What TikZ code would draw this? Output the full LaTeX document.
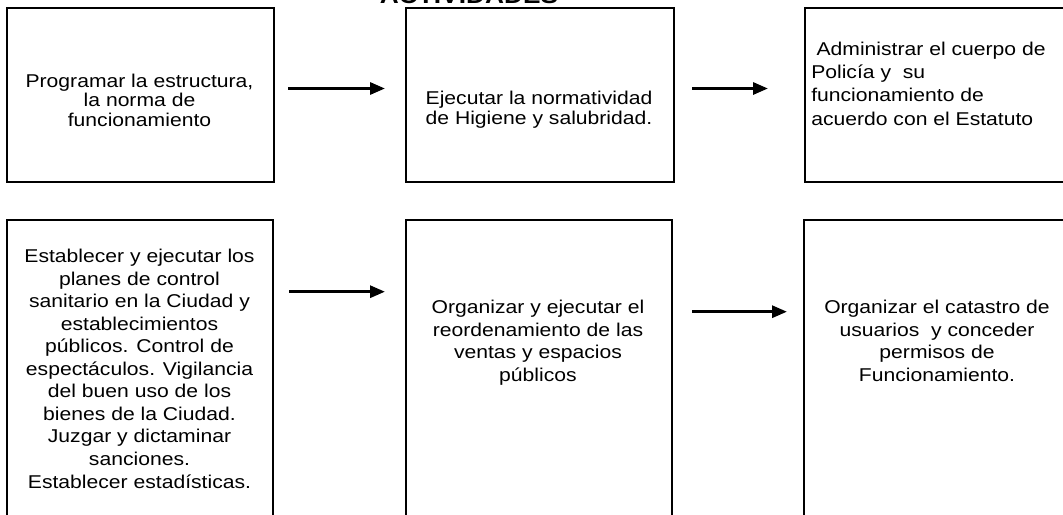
\documentclass[tikz,border=0pt]{standalone}
\usepackage{fontspec}
\setmainfont{Liberation Sans}[FakeStretch=1.14]
\usetikzlibrary{arrows.meta}
% body text size with a given line spacing
\newcommand\boxfont[1]{\fontsize{13.9pt}{#1}\selectfont}
\begin{document}
\begin{tikzpicture}[x=0.75pt,y=-0.75pt,
  box/.style={draw, line width=1.5pt, rectangle, inner sep=0pt, anchor=north west},
  txt/.style={inner sep=0pt, anchor=base, align=center},
  flow/.style={line width=2.25pt, -{Triangle[length=11.25pt,width=9pt]}}
]
\useasboundingbox (0,0) rectangle (1063,514);
\clip (0,0) rectangle (1063,514);

% heading
\node[anchor=base, inner sep=0pt, font=\bfseries\fontsize{17.3pt}{20pt}\selectfont] (title) at (469,3) {ACTIVIDADES};

% upper row of boxes
\node[box, minimum width=266.5*0.75pt, minimum height=174*0.75pt] (b1) at (6.3,7.3) {};
\node[box, minimum width=267.7*0.75pt, minimum height=174*0.75pt] (b2) at (405,7.3) {};
\node[box, minimum width=268*0.75pt, minimum height=174*0.75pt] (b3) at (804,7.3) {};

% lower row of boxes
\node[box, minimum width=266*0.75pt, minimum height=360*0.75pt] (b4) at (6.3,219) {};
\node[box, minimum width=266*0.75pt, minimum height=360*0.75pt] (b5) at (405,219) {};
\node[box, minimum width=268*0.75pt, minimum height=360*0.75pt] (b6) at (803,219) {};

% texts (placed by the baseline of their last line)
\node[txt, font=\boxfont{14.6pt}] (t1) at (139.5,126.3)
  {Programar la estructura,\\ la norma de\\ funcionamiento};
\node[txt, font=\boxfont{15pt}] (t2) at (539,124)
  {Ejecutar la normatividad\\ de Higiene y salubridad.};
\node[txt, anchor=base west, align=left, font=\boxfont{17.5pt}] (t3) at (811,125)
  {\hspace*{4pt}Administrar el cuerpo de\\ Polic\'ia y\ \ su\\ funcionamiento de\\ acuerdo con el Estatuto};
\node[txt, font=\boxfont{16.9pt}] (t4) at (139.5,488)
  {Establecer y ejecutar los\\ planes de control\\ sanitario en la Ciudad y\\ establecimientos\\
   p\'ublicos. Control de\\ espect\'aculos. Vigilancia\\ del buen uso de los\\ bienes de la Ciudad.\\
   Juzgar y dictaminar\\ sanciones.\\ Establecer estad\'isticas.};
\node[txt, font=\boxfont{17.1pt}] (t5) at (538,381.7)
  {Organizar y ejecutar el\\ reordenamiento de las\\ ventas y espacios\\ p\'ublicos};
\node[txt, font=\boxfont{17.1pt}] (t6) at (937,381.7)
  {Organizar el catastro de\\ usuarios\ \ y conceder\\ permisos de\\ Funcionamiento.};

% arrows between the boxes
\coordinate (a1s) at (288,88.5);  \coordinate (a1e) at (385,88.5);
\coordinate (a2s) at (692,88.5);  \coordinate (a2e) at (768,88.5);
\coordinate (a3s) at (289,291.7); \coordinate (a3e) at (385,291.7);
\coordinate (a4s) at (692,311.7); \coordinate (a4e) at (787,311.7);
\draw[flow] (a1s) -- (a1e);
\draw[flow] (a2s) -- (a2e);
\draw[flow] (a3s) -- (a3e);
\draw[flow] (a4s) -- (a4e);
\end{tikzpicture}
\end{document}
